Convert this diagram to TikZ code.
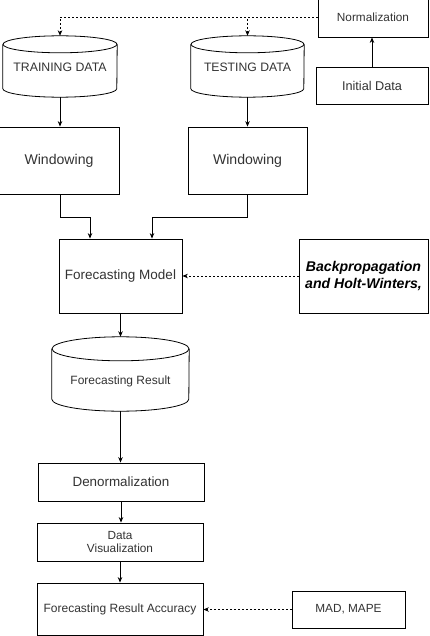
\documentclass[tikz,border=0pt]{standalone}
\usepackage{fontspec}
\setmainfont{Liberation Sans}
\usetikzlibrary{arrows.meta,calc}
\definecolor{txt}{HTML}{333333}
\newcommand{\fs}[1]{\fontsize{#1}{#1}\selectfont}
\newcommand{\drawcyl}[3]{%
  \draw[ln] ([yshift=-#3pt]#1.north) ellipse [x radius=#2pt, y radius=#3pt];
  \draw[ln] ([yshift=-#3pt]#1.north west) -- ([yshift=#3pt]#1.south west)
     arc[start angle=180,end angle=360,x radius=#2pt,y radius=#3pt]
     -- ([yshift=-#3pt]#1.north east);
}
\begin{document}
\begin{tikzpicture}[x=1pt,y=-1pt,
  ln/.style={draw=black,line width=0.8pt},
  box/.style={ln,rectangle,inner sep=0pt,text=txt,align=center},
  cylarea/.style={rectangle,inner sep=0pt},
  lbl/.style={inner sep=0pt,text=txt,align=center},
  arr/.style={ln,-{Stealth[length=5.5pt,width=4.5pt]}},
  darr/.style={arr,dash pattern=on 2pt off 2pt}]
\useasboundingbox (0,0) rectangle (430,636);
\fill[white] (0,0) rectangle (430,636);

% top right
\node[box,minimum width=110,minimum height=40,font=\fs{11.8}] (norm) at (373,17) {Normalization};
\node[box,minimum width=112,minimum height=37,font=\fs{12.7}] (init) at (372,85.5) {Initial Data};

% cylinders
\node[cylarea,minimum width=114,minimum height=61] (train) at (60,66.5) {};
\node[cylarea,minimum width=113,minimum height=61] (test) at (247.5,66.5) {};
\drawcyl{train}{57}{8.5}
\drawcyl{test}{56.5}{8.5}
\node[lbl,font=\fs{12.3}] (trainlbl) at (60,67) {TRAINING DATA};
\node[lbl,font=\fs{12.2}] (testlbl) at (247.5,67) {TESTING DATA};

% windowing
\node[box,minimum width=120,minimum height=67,font=\fs{14.1}] (win1) at (59,160.5) {Windowing};
\node[box,minimum width=119,minimum height=67,font=\fs{14.1}] (win2) at (247.5,160.5) {Windowing};

% model
\node[box,minimum width=123,minimum height=74,font=\fs{13.5}] (fm) at (120.5,276) {Forecasting Model};
\node[box,minimum width=129,minimum height=74,text=black,
  font=\fontsize{14.1}{17}\selectfont\bfseries\itshape] (bp) at (363.5,276)
  {Backpropagation\\and Holt-Winters,};

% result cylinder
\node[cylarea,minimum width=137,minimum height=74] (fr) at (120.5,374) {};
\drawcyl{fr}{68.5}{12}
\node[lbl,font=\fs{12}] (frlbl) at (120.5,381) {Forecasting Result};

% lower boxes
\node[box,minimum width=166,minimum height=38,font=\fs{13.4}] (denorm) at (121,482) {Denormalization};
\node[box,minimum width=166,minimum height=38,font=\fontsize{11.8}{13}\selectfont] (viz) at (120,542) {Data\\Visualization};
\node[box,minimum width=166,minimum height=52,font=\fs{12}] (acc) at (120,609) {Forecasting Result Accuracy};
\node[box,minimum width=113,minimum height=37,font=\fs{11.8}] (mad) at (348.5,609.5) {MAD, MAPE};

% connectors
\draw[arr] (init.north) -- (init.north |- norm.south);
\draw[darr] (norm.west) -| (train.north);
\draw[darr] (norm.west) -| (test.north);
\draw[arr] (train.south) -- (train.south |- win1.north);
\draw[arr] (test.south) -- (test.south |- win2.north);
\draw[arr] (win1.south -| train.south) -- ++(0,23) -| ([xshift=-30.5pt]fm.north);
\draw[arr] (win2.south) -- ++(0,23) -| ([xshift=31.5pt]fm.north);
\draw[darr] (bp.west) -- (fm.east);
\draw[arr] (fm.south) -- (fr.north);
\draw[arr] (fr.south) -- (fr.south |- denorm.north);
\draw[arr] (denorm.south) -- (denorm.south |- viz.north);
\draw[arr] (viz.south) -- (acc.north);
\draw[darr] (mad.west) -- (mad.west -| acc.east);
\end{tikzpicture}
\end{document}
